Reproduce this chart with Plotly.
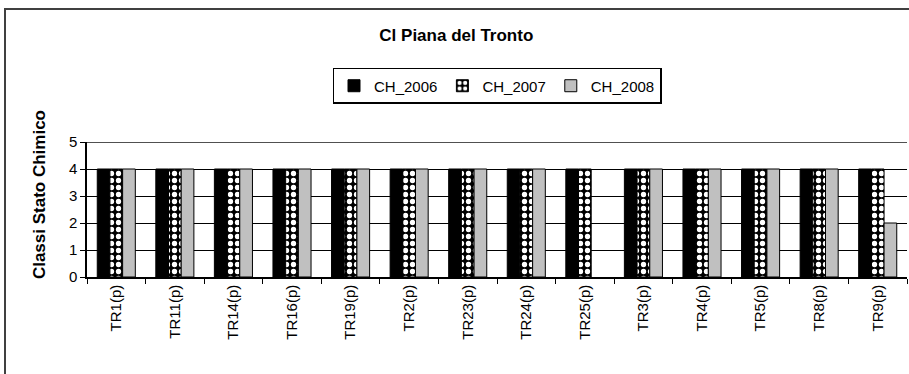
import plotly.graph_objects as go

# dati
stazioni = ["TR1(p)", "TR11(p)", "TR14(p)", "TR16(p)", "TR19(p)", "TR2(p)", "TR23(p)",
            "TR24(p)", "TR25(p)", "TR3(p)", "TR4(p)", "TR5(p)", "TR8(p)", "TR9(p)"]
ch_2006 = [4, 4, 4, 4, 4, 4, 4, 4, 4, 4, 4, 4, 4, 4]
ch_2007 = [4, 4, 4, 4, 4, 4, 4, 4, 4, 4, 4, 4, 4, 4]
ch_2008 = [4, 4, 4, 4, 4, 4, 4, 4, None, 4, 4, 4, 4, 2]

font = "Liberation Sans, Arial, sans-serif"

fig = go.Figure()

fig.add_trace(go.Bar(
    x=stazioni, y=ch_2006, name="CH_2006",
    marker=dict(color="black", line=dict(color="black", width=1))
))
fig.add_trace(go.Bar(
    x=stazioni, y=ch_2007, name="CH_2007",
    marker=dict(
        color="black",
        line=dict(color="black", width=1),
        pattern=dict(shape=".", fgcolor="white", bgcolor="black",
                     size=7, solidity=0.45, fillmode="replace")
    )
))
fig.add_trace(go.Bar(
    x=stazioni, y=ch_2008, name="CH_2008",
    marker=dict(color="#c0c0c0", line=dict(color="black", width=1))
))

fig.update_layout(
    width=909, height=374,
    margin=dict(l=87, r=2, t=142, b=97, autoexpand=False),
    paper_bgcolor="white", plot_bgcolor="white",
    font=dict(family=font, color="black"),
    barmode="group", bargap=0.35, bargroupgap=0,
    title=dict(text="<b>Cl Piana del Tronto</b>", x=0.502, xref="container",
               xanchor="center", y=0.906, yanchor="middle", font=dict(size=17)),
    showlegend=True,
    legend=dict(orientation="h", x=0.5, xanchor="center", xref="paper",
                y=1.415, yanchor="middle", yref="paper",
                bordercolor="black", borderwidth=1.5,
                font=dict(size=15, color="black"),
                itemwidth=30, tracegroupgap=0),
)

fig.update_xaxes(
    type="category", showline=True, linecolor="black", linewidth=1.5,
    ticks="outside", tickson="boundaries", ticklen=5, tickcolor="black",
    tickangle=-90, tickfont=dict(size=15, color="black"),
    showgrid=False, automargin=False
)
fig.update_yaxes(
    range=[0, 5], dtick=1, showline=True, linecolor="black", linewidth=1.5,
    ticks="outside", ticklen=5, tickcolor="black",
    tickfont=dict(size=15, color="black"),
    showgrid=True, gridcolor="black", gridwidth=1, zeroline=False,
    automargin=False
)

# titolo asse y un po' più in alto, come nell'originale
fig.add_annotation(text="<b>Classi Stato Chimico</b>", textangle=-90,
                   xref="paper", yref="paper", x=-0.058, y=0.61,
                   xanchor="center", yanchor="middle", showarrow=False,
                   font=dict(size=17, color="black"))

# cornice esterna del grafico
fig.add_shape(type="rect", xref="paper", yref="paper",
              x0=-0.1, x1=1.2, y0=-1.0, y1=1.985,
              line=dict(color="#404040", width=2), layer="below")
# linea superiore a 5 più marcata
fig.add_shape(type="line", xref="paper", yref="y",
              x0=0, x1=1, y0=5, y1=5, line=dict(color="#505050", width=2))

# niente margine della pagina, il grafico parte da 0,0
fig.write_html("out.html", config={"displayModeBar": False},
               post_script="document.body.style.margin='0';")
